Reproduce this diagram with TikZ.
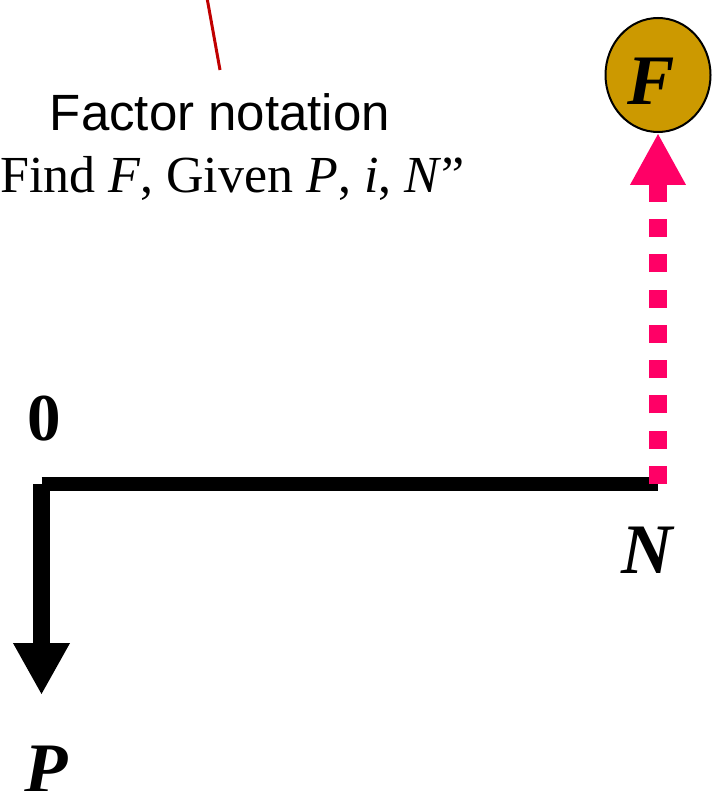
\documentclass[tikz,border=0pt]{standalone}
\usepackage{fontspec}
\setmainfont{Liberation Serif}
\newfontfamily\arialfont{Liberation Sans}
\usetikzlibrary{arrows.meta,shapes.geometric}
\definecolor{gold}{HTML}{CC9900}
\definecolor{hotpink}{HTML}{FF0066}
\definecolor{darkred}{HTML}{C00000}
\begin{document}
\begin{tikzpicture}[x=1pt,y=-1pt,
  biglabel/.style={font=\fontsize{71}{80}\selectfont\bfseries\itshape, inner sep=0pt, anchor=base},
  numlabel/.style={font=\fontsize{67}{76}\selectfont\bfseries, inner sep=0pt, anchor=base},
  axisline/.style={line width=14pt, line cap=butt},
  cashflow/.style={line width=17pt, -{Triangle[length=52pt,width=53pt]}},
  futureflow/.style={hotpink, line width=18pt, dash pattern=on 18pt off 17.3pt, -{Triangle[length=52pt,width=52pt]}},
  pointer/.style={darkred, line width=3pt}]
\useasboundingbox (0,0) rectangle (711,791);
% coordinates
\coordinate (O) at (41.5,484);
\coordinate (Nend) at (658,484);
\coordinate (Pend) at (41.5,695);
\coordinate (Ptop) at (206.5,-5);
\coordinate (Pbot) at (220,70);
% future value ellipse
\node[ellipse, draw=black, line width=2pt, fill=gold, minimum width=105pt, minimum height=114pt, inner sep=0pt] (F) at (658,75) {};
\node[biglabel] (Flab) at (651,105) {F};
% text
\node[font=\arialfont\fontsize{51}{60}\selectfont, inner sep=0pt, anchor=base] (fn) at (220,131) {Factor notation};
\node[font=\fontsize{52}{60}\selectfont, inner sep=0pt, anchor=base west] (find) at (0,193) {Find \textit{F}, Given \textit{P}, \textit{i}, \textit{N}”};
% pointer line
\draw[pointer] (Ptop) -- (Pbot);
% time line
\draw[axisline] (O) -- (Nend);
\draw[cashflow] (O) -- (Pend);
\draw[futureflow] (Nend) -- (F.south);
% labels
\node[numlabel] (zero) at (44.5,440) {0};
\node[biglabel] (Nlab) at (647,573) {N};
\node[biglabel] (Plab) at (46,792) {P};
\end{tikzpicture}
\end{document}
